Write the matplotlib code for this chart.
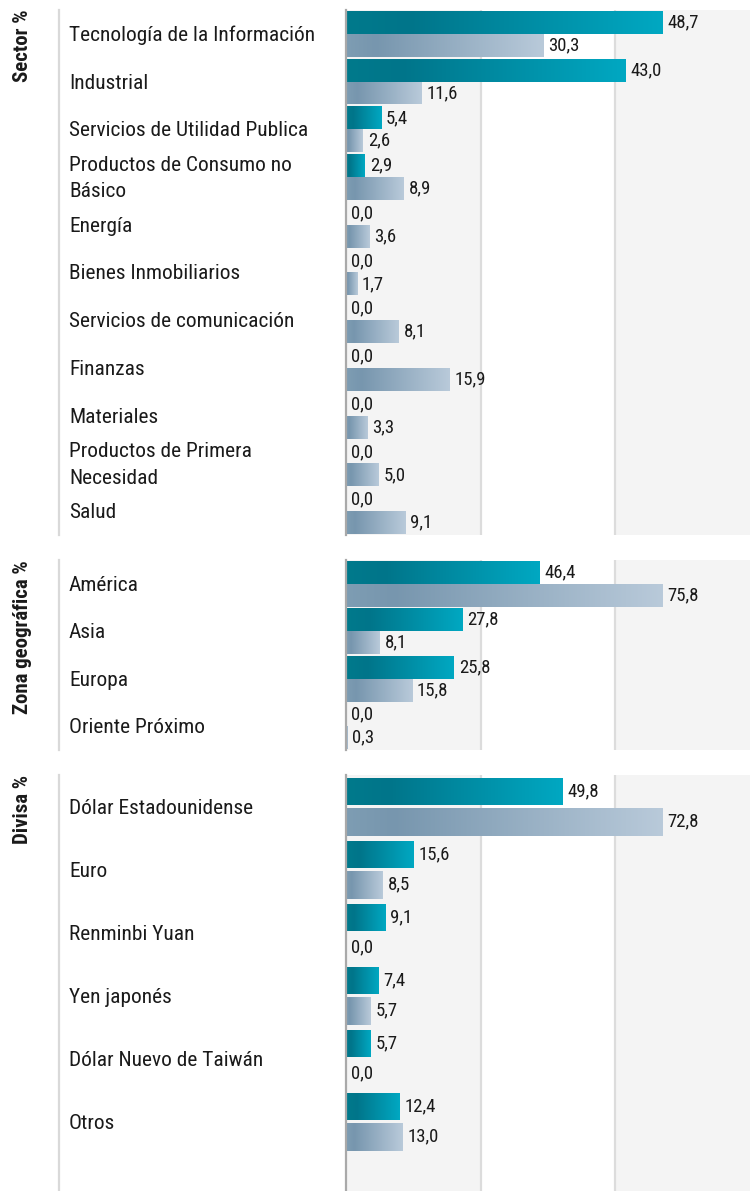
import matplotlib
matplotlib.use("Agg")
import matplotlib.pyplot as plt
import numpy as np
from matplotlib.colors import LinearSegmentedColormap
from matplotlib.transforms import blended_transform_factory
from matplotlib.lines import Line2D

# ---------------- data ----------------
sector_labels = ["Tecnología de la Información", "Industrial", "Servicios de Utilidad Publica",
                 "Productos de Consumo no\nBásico", "Energía", "Bienes Inmobiliarios",
                 "Servicios de comunicación", "Finanzas", "Materiales",
                 "Productos de Primera\nNecesidad", "Salud"]
sector_fund = [48.7, 43.0, 5.4, 2.9, 0.0, 0.0, 0.0, 0.0, 0.0, 0.0, 0.0]
sector_bench = [30.3, 11.6, 2.6, 8.9, 3.6, 1.7, 8.1, 15.9, 3.3, 5.0, 9.1]

geo_labels = ["América", "Asia", "Europa", "Oriente Próximo"]
geo_fund = [46.4, 27.8, 25.8, 0.0]
geo_bench = [75.8, 8.1, 15.8, 0.3]

cur_labels = ["Dólar Estadounidense", "Euro", "Renminbi Yuan", "Yen japonés",
              "Dólar Nuevo de Taiwán", "Otros"]
cur_fund = [49.8, 15.6, 9.1, 7.4, 5.7, 12.4]
cur_bench = [72.8, 8.5, 0.0, 5.7, 0.0, 13.0]

panel_titles = ["Sector %", "Zona geográfica %", "Divisa %"]

# ---------------- style ----------------
FONT = ["Roboto Condensed", "Liberation Sans Narrow", "Roboto", "DejaVu Sans"]
plt.rcParams["font.family"] = FONT
TXT = "#1a1a1a"
W, H = 750, 1191
fig = plt.figure(figsize=(W / 100, H / 100), dpi=100)

cmap_fund = LinearSegmentedColormap.from_list("f", [(0, "#007a8c"), (0.2, "#00758a"), (1, "#00a8c2")])
cmap_bench = LinearSegmentedColormap.from_list("b", [(0, "#7e9db3"), (0.15, "#7796ae"), (1, "#b9cada")])
grad = np.linspace(0, 1, 256).reshape(1, -1)

def fmt(v):
    return f"{v:.1f}".replace(".", ",")

panels = [
    # labels, fund, bench, title, top px, bottom px, bar height, inner gap, extra bottom
    (sector_labels, sector_fund, sector_bench, panel_titles[0], 10, 535, 0.48, 0.0, 0.0),
    (geo_labels, geo_fund, geo_bench, panel_titles[1], 560, 750, 0.48, 0.0, 0.0),
    (cur_labels, cur_fund, cur_bench, panel_titles[2], 775, 1191, 0.44, 0.04, 0.6),
]

for labels, fund, bench, title, top, bot, h, gap, extra in panels:
    ax = fig.add_axes([346 / W, 1 - bot / H, 404 / W, (bot - top) / H])
    n = len(labels)
    xmax = max(max(fund), max(bench)) * 1.275
    y = np.arange(n)
    off = h / 2 + gap / 2
    for vals, yy, cmap in ((fund, y - off, cmap_fund), (bench, y + off, cmap_bench)):
        bars = ax.barh(yy, vals, height=h, color="none", edgecolor="none", zorder=2)
        for b, v in zip(bars, vals):
            if v > 0:
                x0, y0 = b.get_x(), b.get_y()
                im = ax.imshow(grad, cmap=cmap, aspect="auto",
                               extent=[x0, x0 + b.get_width(), y0 + b.get_height(), y0],
                               zorder=2, interpolation="bilinear")
                im.set_clip_path(b)
            ax.text(v + xmax * 0.012, b.get_y() + b.get_height() / 2, fmt(v),
                    va="center", ha="left", fontsize=13.5, color=TXT, zorder=3)
    ax.set_xlim(0, xmax)
    ax.set_ylim(n - 0.5 + extra, -0.5)
    ax.axvspan(0, xmax / 3, color="#f4f4f4", zorder=0, lw=0)
    ax.axvspan(2 * xmax / 3, xmax, color="#f4f4f4", zorder=0, lw=0)
    for gx in (xmax / 3, 2 * xmax / 3):
        ax.axvline(gx, color="#dcdcdc", lw=1.6, zorder=1)
    for s in ("top", "right", "bottom"):
        ax.spines[s].set_visible(False)
    ax.spines["left"].set_color("#a9a9a9")
    ax.spines["left"].set_linewidth(1.6)
    ax.set_xticks([])
    ax.set_yticks([])

    tr = blended_transform_factory(fig.transFigure, ax.transData)
    for yi, lab in zip(y, labels):
        ax.text(69 / W, yi + 0.03, lab, transform=tr, ha="left", va="center",
                fontsize=15.4, color=TXT, linespacing=1.5, clip_on=False)
    fig.add_artist(Line2D([59 / W, 59 / W], [1 - top / H, 1 - bot / H],
                          transform=fig.transFigure, color="#d9d9d9", lw=1.6))
    fig.text(23 / W, 1 - top / H, title, rotation=90, ha="center", va="top",
             fontsize=15, fontweight="bold", color=TXT)

fig.savefig("out.png", dpi=100)
